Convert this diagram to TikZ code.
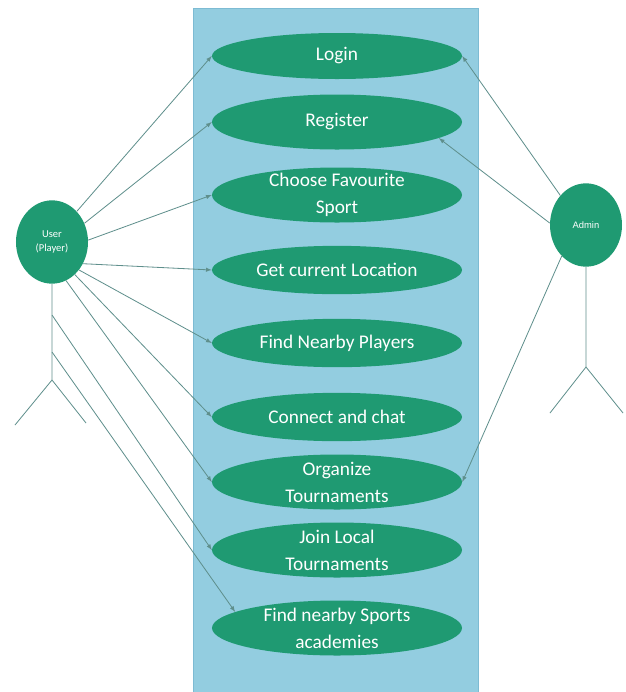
\documentclass[tikz,border=0pt]{standalone}
\usepackage{fontspec}
\newfontfamily\calibri{Carlito}
\newfontfamily\arialfont{Liberation Sans}
\usetikzlibrary{shapes.geometric}
\definecolor{ucgreen}{HTML}{1F9A72}
\definecolor{sysblue}{HTML}{93CDE0}
\definecolor{sysedge}{HTML}{7DBBD3}
\definecolor{wire}{HTML}{5F8F8C}
\tikzset{>=latex}
\tikzset{
  usecase/.style = {ellipse, fill = ucgreen, text = white, inner xsep = 0pt, inner ysep = -8pt, minimum width = 7.5cm, minimum height = 1.45cm, align = center, font = \calibri\fontsize{16.5}{23}\selectfont},
  twoline/.style = {minimum height = 1.65cm},
  actor/.style = {ellipse, fill = ucgreen, text = white, inner sep = 0pt, minimum width = 2.16cm, minimum height = 2.5cm, align = center},
  limb/.style = {draw = wire, line width = 0.7pt},
  assoc/.style = {draw = wire, line width = 0.7pt, ->}
}

\begin{document}
\begin{tikzpicture}[x = 0.03cm, y = -0.03cm]
\useasboundingbox (0, 0) rectangle (626, 692);

\node[draw = sysedge, fill = sysblue, line width = 0.8pt, minimum width = 8.55cm, minimum height = 20.52cm, inner sep = 0pt] (system) at (335.5, 350) {};

\node[usecase, minimum height = 1.38cm] (login) at (337, 56) {Login};
\node[usecase, twoline] (register) at (337, 122) {Register};
\node[usecase, twoline] (sport) at (337, 195) {Choose Favourite\\Sport};
\node[usecase] (location) at (337, 270) {Get current Location};
\node[usecase] (players) at (337, 343) {Find Nearby Players};
\node[usecase] (chat) at (337, 417) {Connect and chat};
\node[usecase, twoline] (organize) at (337, 482) {Organize\\Tournaments};
\node[usecase, twoline] (join) at (337, 550) {Join Local\\Tournaments};
\node[usecase, twoline] (academy) at (337, 628) {Find nearby Sports\\academies};

% actors
\node[actor, font = \calibri\fontsize{9}{12}\selectfont] (user) at (52, 242) {User\\(Player)};
\coordinate (uhip) at (52, 380);
\coordinate (ulegl) at (15, 425);
\coordinate (ulegr) at (86, 423);
\coordinate (ubody1) at (52, 315);
\coordinate (ubody2) at (52, 352);
\draw[limb] (user.south) -- (uhip) -- (ulegl);
\draw[limb] (uhip) -- (ulegr);

\node[actor, font = \arialfont\fontsize{8}{10}\selectfont] (admin) at (586, 225) {Admin};
\coordinate (ahip) at (586, 367);
\coordinate (alegl) at (550, 413);
\coordinate (alegr) at (623, 413);
\draw[limb] (admin.south) -- (ahip) -- (alegl);
\draw[limb] (ahip) -- (alegr);

\foreach \a/\n in {51/login, 30/register, 3/sport, -35/location, -46/players, -55/chat, -70/organize}{\path (user.\a) edge [assoc] (\n.west);}
\path (ubody1) edge [assoc] (join.west);
\path (ubody2) edge [assoc] (academy.171);

\path (admin.131) edge [assoc] (login.east);
\path (admin.177) edge [assoc] (register.-9);
\path (admin.232) edge [assoc] (organize.east);

\end{tikzpicture}
\end{document}
